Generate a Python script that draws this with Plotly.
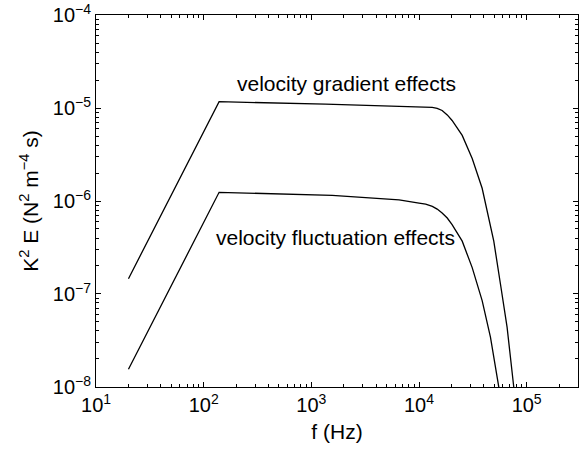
import math
import plotly.graph_objects as go

# Data (log-log)
f_grad = [20, 139, 1350, 10000, 12000, 13270, 14750, 16400, 18300, 20300, 25200, 31200, 38600, 44500, 49500, 57100, 65800, 75900, 80000]
e_grad = [1.46e-7, 1.17e-5, 1.10e-5, 1.035e-5, 1.025e-5, 1.015e-5, 9.93e-6, 9.4e-6, 8.43e-6, 7.35e-6, 5.08e-6, 2.86e-6, 1.37e-6, 6.56e-7, 3.70e-7, 1.28e-7, 4.4e-8, 1.0e-8, 5.9e-9]

f_fluc = [20, 139, 1563, 6530, 10000, 11530, 13300, 14750, 16400, 18300, 20300, 25200, 31200, 38600, 46100, 55100, 58900]
e_fluc = [1.55e-8, 1.24e-6, 1.15e-6, 1.03e-6, 9.48e-7, 9.25e-7, 8.74e-7, 8.18e-7, 7.41e-7, 6.56e-7, 5.57e-7, 3.70e-7, 1.92e-7, 8.47e-8, 3.44e-8, 1.0e-8, 6.3e-9]

x_ticks = [1e1, 1e2, 1e3, 1e4, 1e5]
x_ticktext = ["10<sup>1</sup>", "10<sup>2</sup>", "10<sup>3</sup>", "10<sup>4</sup>", "10<sup>5</sup>"]
y_ticks = [1e-8, 1e-7, 1e-6, 1e-5, 1e-4]
y_ticktext = ["10<sup>\u22128</sup>", "10<sup>\u22127</sup>", "10<sup>\u22126</sup>", "10<sup>\u22125</sup>", "10<sup>\u22124</sup>"]

x_minor = [m * 10 ** d for d in range(1, 6) for m in range(2, 10)]
y_minor = [m * 10.0 ** d for d in range(-8, -4) for m in range(2, 10)]

labels = ["velocity gradient effects", "velocity fluctuation effects"]
label_pos = [(2130, 1.85e-5), (1670, 4.1e-7)]

FONT = "Liberation Sans, Arial, sans-serif"
FS = 20
FS_TXT = 21

fig = go.Figure()
fig.add_trace(go.Scatter(x=f_grad, y=e_grad, mode="lines",
                         line=dict(color="black", width=1.3), showlegend=False))
fig.add_trace(go.Scatter(x=f_fluc, y=e_fluc, mode="lines",
                         line=dict(color="black", width=1.3), showlegend=False))

for txt, (xx, yy) in zip(labels, label_pos):
    fig.add_annotation(x=math.log10(xx), y=math.log10(yy), xref="x", yref="y", text=txt,
                       showarrow=False, font=dict(family=FONT, size=FS_TXT, color="black"))

axis_common = dict(
    type="log", showline=True, linecolor="black", linewidth=1, mirror="ticks",
    ticks="inside", ticklen=5, tickcolor="black", showgrid=False, zeroline=False,
    tickfont=dict(family=FONT, size=FS, color="black"), ticklabeloverflow="allow",
)

fig.update_xaxes(
    **axis_common,
    range=[0.9995, 5.477],
    tickmode="array", tickvals=x_ticks, ticktext=x_ticktext,
    minor=dict(tickmode="array", tickvals=x_minor, ticks="inside", ticklen=3, tickcolor="black", showgrid=False),
    title=dict(text="f (Hz)", font=dict(family=FONT, size=FS_TXT, color="black"), standoff=9),
)
fig.update_yaxes(
    **axis_common,
    range=[-8.0005, -3.9995],
    tickmode="array", tickvals=y_ticks, ticktext=y_ticktext,
    minor=dict(tickmode="array", tickvals=y_minor, ticks="inside", ticklen=3, tickcolor="black", showgrid=False),
    title=dict(text="K<sup>2</sup> E (N<sup>2</sup> m<sup>\u22124</sup> s)",
               font=dict(family=FONT, size=FS_TXT, color="black"), standoff=8),
)

fig.update_layout(
    width=580, height=453,
    margin=dict(l=96, r=1, t=12, b=66),
    plot_bgcolor="white", paper_bgcolor="white",
    font=dict(family=FONT, size=FS, color="black"),
)

fig.write_html("out.html")
